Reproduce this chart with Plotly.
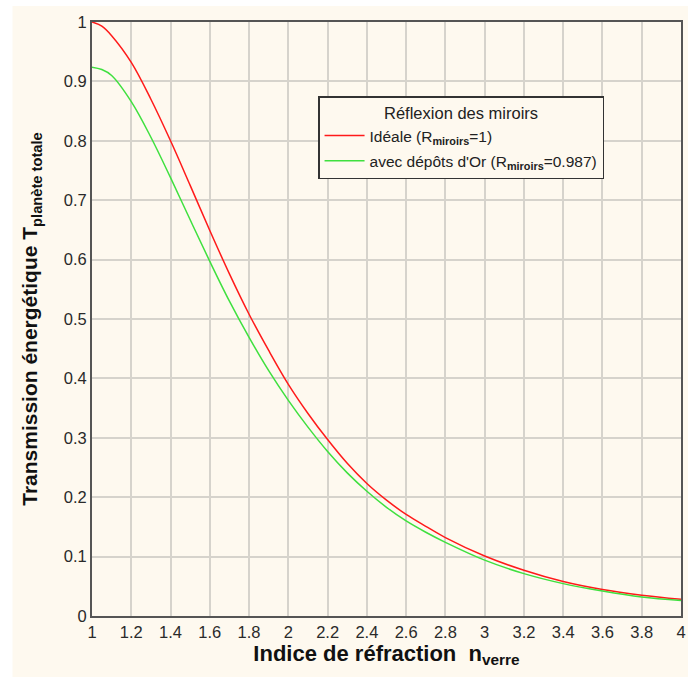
import plotly.graph_objects as go

# Data
n_verre = [1.0, 1.05, 1.1, 1.2, 1.3, 1.4, 1.5, 1.6, 1.7, 1.8, 1.9, 2.0, 2.1, 2.2, 2.3,
           2.4, 2.5, 2.6, 2.7, 2.8, 3.0, 3.2, 3.4, 3.6, 3.8, 4.0]
t_ideale = [1.0, 0.993, 0.977, 0.932, 0.870, 0.800, 0.725, 0.649, 0.576, 0.508, 0.447,
            0.390, 0.341, 0.297, 0.257, 0.223, 0.195, 0.171, 0.151, 0.132, 0.101,
            0.077, 0.058, 0.0445, 0.035, 0.028]
t_or = [0.924, 0.920, 0.910, 0.866, 0.806, 0.738, 0.667, 0.597, 0.530, 0.469, 0.413,
        0.363, 0.318, 0.277, 0.241, 0.210, 0.183, 0.160, 0.141, 0.124, 0.094,
        0.0713, 0.0545, 0.042, 0.032, 0.026]

x_ticks = [1, 1.2, 1.4, 1.6, 1.8, 2, 2.2, 2.4, 2.6, 2.8, 3, 3.2, 3.4, 3.6, 3.8, 4]
x_tick_labels = ["1", "1.2", "1.4", "1.6", "1.8", "2", "2.2", "2.4", "2.6", "2.8",
                 "3", "3.2", "3.4", "3.6", "3.8", "4"]
y_ticks = [0, 0.1, 0.2, 0.3, 0.4, 0.5, 0.6, 0.7, 0.8, 0.9, 1]
y_tick_labels = ["0", "0.1", "0.2", "0.3", "0.4", "0.5", "0.6", "0.7", "0.8", "0.9", "1"]

CREAM = "#FEF9EF"
GRID = "#D6D3CC"
AXIS = "#555555"
FONT = "Liberation Sans, Arial, sans-serif"

fig = go.Figure()
fig.add_trace(go.Scatter(
    x=n_verre, y=t_ideale, mode="lines", line=dict(color="#FF1A1A", width=1.5, shape="spline"),
    name="Idéale (R<sub><b>miroirs</b></sub>=1)", legendgroup="a"))
fig.add_trace(go.Scatter(
    x=n_verre, y=t_or, mode="lines", line=dict(color="#3FE03F", width=1.5, shape="spline"),
    name="avec dépôts d'Or (R<sub><b>miroirs</b></sub>=0.987)", legendgroup="b"))

fig.update_layout(
    width=688, height=677,
    margin=dict(l=92, r=2, t=22, b=61, pad=0),
    paper_bgcolor="white",
    plot_bgcolor=CREAM,
    font=dict(family=FONT, size=16, color="#2a2a2a"),
    showlegend=True,
    legend=dict(
        x=0.3838, y=0.8754, xanchor="left", yanchor="top",
        bgcolor=CREAM, bordercolor="#333333", borderwidth=1.5,
        font=dict(family=FONT, size=15.5, color="#222222"),
        title=dict(text="Réflexion des miroirs", side="top center",
                   font=dict(family=FONT, size=16.5, color="#222222")),
        itemwidth=40, tracegroupgap=2,
    ),
    shapes=[dict(type="rect", xref="paper", yref="paper", layer="below",
                 x0=-0.135, x1=1.02, y0=-0.12, y1=1.027,
                 fillcolor=CREAM, line=dict(width=0))],
    xaxis=dict(
        range=[1, 4], tickvals=x_ticks, ticktext=x_tick_labels,
        showgrid=True, gridcolor=GRID, gridwidth=1.5,
        showline=True, linecolor=AXIS, linewidth=2, mirror=True,
        ticks="", ticklen=0, zeroline=False, ticklabeloverflow="allow",
        tickfont=dict(size=16.5, color="#2a2a2a"),
        title=dict(text="<b>Indice de réfraction  n<sub>verre</sub></b>",
                   font=dict(family=FONT, size=22, color="#111111"), standoff=4),
    ),
    yaxis=dict(
        range=[0, 1], tickvals=y_ticks, ticktext=y_tick_labels,
        showgrid=True, gridcolor=GRID, gridwidth=1.5,
        showline=True, linecolor=AXIS, linewidth=2, mirror=True,
        ticks="", ticklen=0, zeroline=False,
        tickfont=dict(size=16.5, color="#2a2a2a"),
        title=dict(text="<b>Transmission énergétique T<sub>planète totale</sub></b>",
                   font=dict(family=FONT, size=21, color="#111111"), standoff=20),
    ),
)

fig.write_html("out.html", config={"displayModeBar": False},
               post_script="document.body.style.margin='0px';")
